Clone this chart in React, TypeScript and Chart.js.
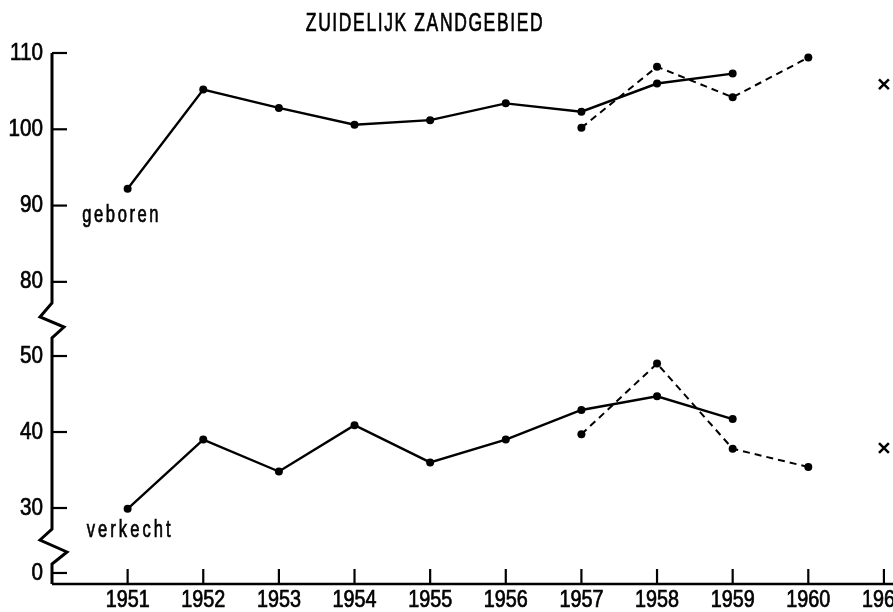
import React, { useEffect, useRef } from "react";
import { Chart, registerables } from "chart.js";

Chart.register(...registerables);

// ---- data ----
const tickYears = [1951, 1952, 1953, 1954, 1955, 1956, 1957, 1958, 1959, 1960, 1961];
const solidYears = [1951, 1952, 1953, 1954, 1955, 1956, 1957, 1958, 1959];
const dashedYears = [1957, 1958, 1959, 1960];
const crossYears = [1961];

const geborenSolid = [92.2, 105.2, 102.8, 100.6, 101.2, 103.4, 102.3, 106.0, 107.3];
const geborenDashed = [100.2, 108.2, 104.2, 109.4];
const geborenCross = [105.9];

const verkechtSolid = [29.9, 39.0, 34.8, 40.9, 36.0, 39.0, 42.9, 44.7, 41.7];
const verkechtDashed = [39.7, 49.0, 37.8, 35.4];
const verkechtCross = [37.9];

const topTicks = [80, 90, 100, 110];
const midTicks = [30, 40, 50];
const botTicks = [0];

const titleText = "ZUIDELIJK ZANDGEBIED";
const seriesLabels = ["geboren", "verkecht"];

const FONT = '"Liberation Sans", "DejaVu Sans", sans-serif';

const pts = (xs: number[], ys: number[]) => xs.map((x, i) => ({ x, y: ys[i] }));

// draw condensed text (typewriter-like lettering of the original)
function narrowText(
  ctx: CanvasRenderingContext2D,
  text: string,
  x: number,
  y: number,
  size: number,
  sx: number,
  align: CanvasTextAlign,
  baseline: CanvasTextBaseline,
  spacing: number
) {
  ctx.save();
  ctx.font = `${size}px ${FONT}`;
  (ctx as any).letterSpacing = `${spacing}px`;
  ctx.textAlign = align;
  ctx.textBaseline = baseline;
  ctx.translate(x, y);
  ctx.scale(sx, 1);
  ctx.fillStyle = "#000";
  ctx.strokeStyle = "#000";
  ctx.lineWidth = 0.7;
  ctx.fillText(text, 0, 0);
  ctx.strokeText(text, 0, 0);
  ctx.restore();
}

const axisPlugin = {
  id: "brokenAxis",
  beforeDatasetsDraw(chart: any) {
    const ctx = chart.ctx;
    const xs = chart.scales.x;
    const yT = chart.scales.yTop;
    const yM = chart.scales.yMid;
    const yB = chart.scales.yBot;
    const ax = chart.chartArea.left;
    const b1 = yT.bottom;
    const b2 = yM.bottom;
    ctx.save();
    ctx.strokeStyle = "#000";
    ctx.fillStyle = "#000";
    ctx.lineJoin = "miter";
    ctx.lineWidth = 3;
    ctx.beginPath();
    ctx.moveTo(ax, yT.top);
    ctx.lineTo(ax, b1 - 17);
    ctx.lineTo(ax - 12, b1 - 3);
    ctx.lineTo(ax + 12, b1 + 7);
    ctx.lineTo(ax, b1 + 18);
    ctx.lineTo(ax, b2 - 17);
    ctx.lineTo(ax - 12, b2 - 6);
    ctx.lineTo(ax + 15, b2 + 6);
    ctx.lineTo(ax, b2 + 18);
    ctx.lineTo(ax, yB.bottom);
    ctx.stroke();
    // y ticks (inward) and labels
    ctx.lineWidth = 2.2;
    for (const s of [yT, yM, yB]) {
      for (const t of s.ticks) {
        const py = s.getPixelForValue(t.value);
        ctx.beginPath();
        ctx.moveTo(ax, py);
        ctx.lineTo(ax + 15, py);
        ctx.stroke();
        narrowText(ctx, String(t.value), ax - 9, py, 24, 0.86, "right", "middle", 0);
      }
    }
    // x axis line
    ctx.lineWidth = 2.4;
    ctx.beginPath();
    ctx.moveTo(ax, xs.top);
    ctx.lineTo(chart.width, xs.top);
    ctx.stroke();
    // x ticks (inward) and labels
    ctx.lineWidth = 2.2;
    for (const t of xs.ticks) {
      const px = xs.getPixelForValue(t.value);
      ctx.beginPath();
      ctx.moveTo(px, xs.top);
      ctx.lineTo(px, xs.top - 15);
      ctx.stroke();
      narrowText(ctx, String(t.value), px, xs.top + 17, 23, 0.86, "center", "middle", 0);
    }
    ctx.restore();
  },
  afterDraw(chart: any) {
    const ctx = chart.ctx;
    const xs = chart.scales.x;
    const yT = chart.scales.yTop;
    const yM = chart.scales.yMid;
    narrowText(ctx, seriesLabels[0], xs.getPixelForValue(1950.4), yT.getPixelForValue(87.8), 23, 0.72, "left", "alphabetic", 3.6);
    narrowText(ctx, seriesLabels[1], xs.getPixelForValue(1950.46), yM.getPixelForValue(26.2), 23, 0.72, "left", "alphabetic", 4.2);
    narrowText(ctx, titleText, 425, 31, 25, 0.7, "center", "alphabetic", 2.3);
  },
};

const yScaleBase = (ticks: number[]) => ({
  type: "linear" as const,
  position: "left" as const,
  stack: "y",
  grid: { display: false, drawTicks: false },
  border: { display: false },
  ticks: { display: false },
  afterBuildTicks: (axis: any) => {
    axis.ticks = ticks.map((v) => ({ value: v }));
  },
  afterFit: (axis: any) => {
    axis.width = 52;
  },
});

export default function App() {
  const ref = useRef<HTMLCanvasElement | null>(null);
  useEffect(() => {
    if (!ref.current) return;
    const black = "#000";
    const line = (data: any[], axis: string, dashed: boolean) => ({
      data,
      yAxisID: axis,
      borderColor: black,
      borderWidth: dashed ? 2 : 2.4,
      borderDash: dashed ? [7, 5] : [],
      pointRadius: 4,
      pointBackgroundColor: black,
      pointBorderWidth: 0,
      clip: false,
    });
    const cross = (data: any[], axis: string) => ({
      data,
      yAxisID: axis,
      showLine: false,
      pointStyle: "crossRot",
      pointRadius: 7,
      pointBorderWidth: 2.5,
      pointBorderColor: black,
      borderColor: black,
      clip: false,
    });
    const chart = new Chart(ref.current, {
      type: "line",
      data: {
        datasets: [
          line(pts(solidYears, geborenSolid), "yTop", false),
          line(pts(dashedYears, geborenDashed), "yTop", true),
          line(pts(solidYears, verkechtSolid), "yMid", false),
          line(pts(dashedYears, verkechtDashed), "yMid", true),
          cross(pts(crossYears, geborenCross), "yTop"),
          cross(pts(crossYears, verkechtCross), "yMid"),
        ] as any,
      },
      options: {
        animation: false,
        responsive: false,
        layout: { padding: { top: 53, right: 37, left: 0, bottom: 0 } },
        plugins: {
          legend: { display: false },
          tooltip: { enabled: false },
          title: { display: false },
        },
        scales: {
          x: {
            type: "linear",
            min: 1950,
            max: 1961.12,
            grid: { display: false, drawTicks: false },
            border: { display: false },
            ticks: { display: false },
            afterBuildTicks: (axis: any) => {
              axis.ticks = tickYears.map((v) => ({ value: v }));
            },
            afterFit: (axis: any) => {
              axis.height = 28;
            },
          },
          yBot: { ...yScaleBase(botTicks), min: -1.45, max: 3.55, stackWeight: 38, weight: 1 },
          yMid: { ...yScaleBase(midTicks), min: 25, max: 54.74, stackWeight: 226, weight: 2 },
          yTop: { ...yScaleBase(topTicks), min: 75, max: 110, stackWeight: 267, weight: 3 },
        } as any,
      },
      plugins: [axisPlugin],
    });
    return () => chart.destroy();
  }, []);
  return (
    <div
      style={{
        position: "fixed",
        left: 0,
        top: 0,
        width: 893,
        height: 612,
        overflow: "hidden",
        background: "#fff",
      }}
    >
      <canvas ref={ref} width={930} height={612} style={{ display: "block" }} />
    </div>
  );
}
